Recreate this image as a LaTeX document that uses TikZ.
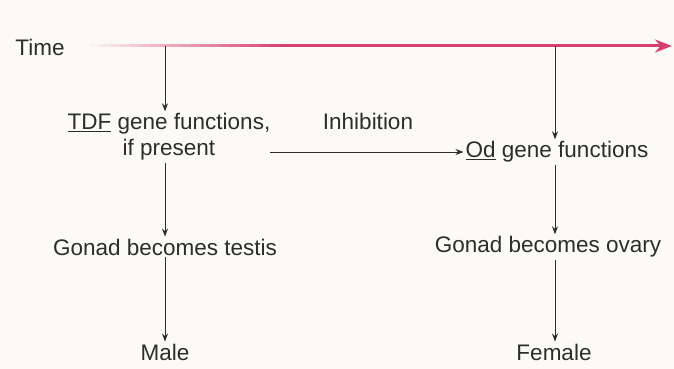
\documentclass[tikz,border=0pt]{standalone}
\usepackage{fontspec}
\setmainfont{Liberation Sans}
\usetikzlibrary{arrows.meta}
\definecolor{timepink}{RGB}{214,64,110}
\definecolor{paper}{RGB}{252,250,247}
\definecolor{ink}{RGB}{45,45,45}
\begin{document}
\begin{tikzpicture}[x=1pt,y=-1pt,line join=round,>={Stealth[length=8pt,width=6pt]},
		font=\fontsize{22.5}{26}\selectfont,text=ink]
	\tikzset{lbl/.style={inner sep=2pt,align=center},
		flow/.style={->,ink,line width=0.9pt}}
	\fill[paper] (0,0) rectangle (674,369);
	\useasboundingbox (0,0) rectangle (674,369);
	% time axis
	\node[lbl] (time) at (40,47) {Time};
	\coordinate (t1) at (290,46);
	\coordinate (t2) at (672,46);
	\foreach \i in {0,...,19}{
		\pgfmathsetmacro\p{5*\i+5}
		\draw[timepink!\p!paper,line width=3pt] (90+10*\i,46) -- (101+10*\i,46);
	}
	\draw[timepink,line width=3pt,-{Stealth[length=17pt,width=13pt]}] (t1) -- (t2);
	\coordinate (tL) at (165,46);
	\coordinate (tR) at (555,46);
	% left branch
	\node[lbl] (tdf) at (169,137) {\underline{TDF} gene functions,\\if present};
	\node[lbl] (testis) at (165,247) {Gonad becomes testis};
	\node[lbl] (male) at (165,352) {Male};
	% right branch
	\node[lbl] (od) at (557,152) {\underline{Od} gene functions};
	\node[lbl] (ovary) at (548,247) {Gonad becomes ovary};
	\node[lbl] (female) at (554,352) {Female};
	% inhibition
	\node[lbl] (inhib) at (368,121) {Inhibition};
	\coordinate (inh) at (270,152);
	\draw[flow] (inh) -- (od.west);
	\draw[flow] (tL) -- (tL |- tdf.north);
	\draw[flow] (tR) -- (tR |- od.north);
	\foreach \a/\b/\c in {tL/tdf/testis,tR/od/ovary,tL/testis/male,tR/ovary/female}
		\draw[flow] (\b.south -| \a) -- (\c.north -| \a);
\end{tikzpicture}
\end{document}
